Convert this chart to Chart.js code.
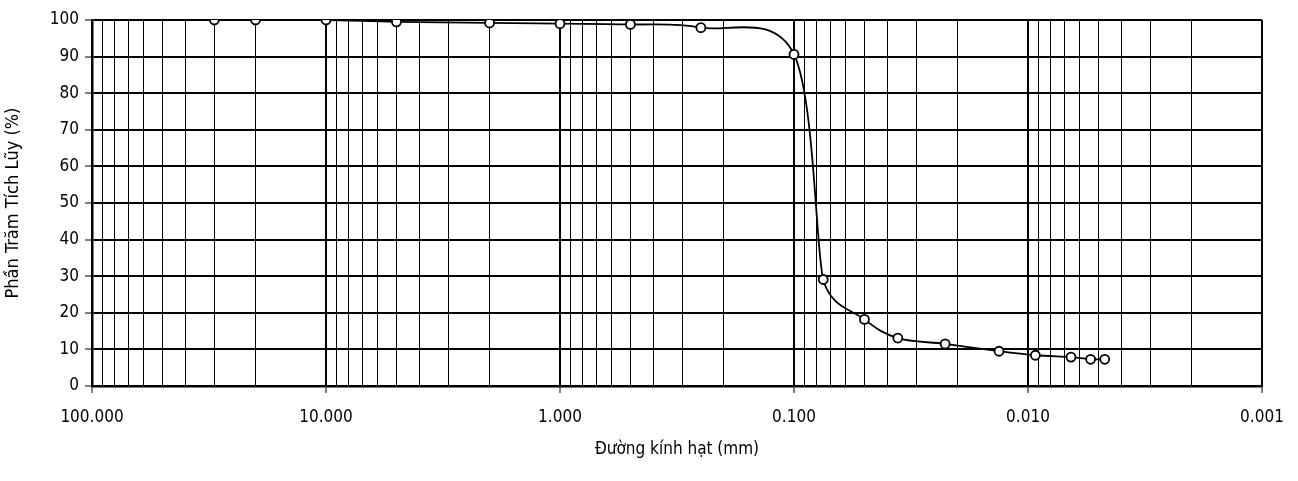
<!DOCTYPE html>
<html>
<head>
<meta charset="utf-8">
<script src="https://cdn.jsdelivr.net/npm/chart.js@4.4.1/dist/chart.umd.min.js"></script>
<style>
  html, body { margin: 0; padding: 0; background: #fff; }
  #wrap { width: 1298px; height: 481px; }
</style>
</head>
<body>
<div id="wrap"><canvas id="chart" width="1298" height="481"></canvas></div>
<script>
// grain size (mm) and cumulative passing (%)
const grainSize = [30, 20, 10, 5, 2, 1, 0.5, 0.25, 0.1, 0.075, 0.05, 0.036, 0.0226, 0.0133, 0.0093, 0.00655, 0.0054, 0.0047];
const passing   = [100, 100, 100, 99.5, 99.2, 99.0, 98.8, 97.9, 90.6, 29.1, 18.2, 13.1, 11.5, 9.5, 8.4, 7.9, 7.3, 7.3];

const xDecades = [100, 10, 1, 0.1, 0.01, 0.001];
const yLabels  = [0, 10, 20, 30, 40, 50, 60, 70, 80, 90, 100];

const xTitle = 'Đường kính hạt (mm)';
const yTitle = 'Phần Trăm Tích Lũy (%)';

const FONT = "'Liberation Sans Narrow', 'Arial Narrow', 'DejaVu Sans Condensed', sans-serif";

function isDecade(v) {
  const l = Math.log10(v);
  return Math.abs(l - Math.round(l)) < 1e-9;
}

// gridlines 1..9 in each decade
const xGrid = [];
for (let k = -3; k < 2; k++) {
  for (let d = 1; d <= 9; d++) xGrid.push(d * Math.pow(10, k));
}
xGrid.push(100);

const points = grainSize.map((g, i) => ({ x: g, y: passing[i] }));

const dist = (a, b) => Math.hypot(b.x - a.x, b.y - a.y);

// spreadsheet-style smoothing: controls at 1/6 of the neighbour chord,
// shortened when one of the adjacent segments is short
const smoothLine = {
  id: 'smoothLine',
  afterDatasetsUpdate(chart) {
    chart.getSortedVisibleDatasetMetas().forEach(meta => {
      const pts = meta.data;
      const n = pts.length;
      for (let i = 0; i < n; i++) {
        const p = pts[i];
        const a = pts[Math.max(i - 1, 0)];
        const b = pts[Math.min(i + 1, n - 1)];
        const d02 = dist(a, b);
        const dmin = Math.min(dist(a, p) || Infinity, dist(p, b) || Infinity);
        let f = 1 / 6;
        if (d02 > 0 && d02 / 6 > dmin / 2) f = 0.5 * dmin / d02;
        const dx = (b.x - a.x) * f, dy = (b.y - a.y) * f;
        p.cp1x = p.x - dx; p.cp1y = p.y - dy;
        p.cp2x = p.x + dx; p.cp2y = p.y + dy;
      }
      if (meta.dataset) meta.dataset._pointsUpdated = true;
    });
  }
};

new Chart(document.getElementById('chart'), {
  type: 'scatter',
  data: {
    datasets: [{
      data: points,
      showLine: true,
      borderColor: '#000',
      borderWidth: 1.8,
      tension: 0.4,
      pointRadius: 4.5,
      pointBackgroundColor: '#fff',
      pointBorderColor: '#000',
      pointBorderWidth: 1.8
    }]
  },
  plugins: [smoothLine],
  options: {
    responsive: false,
    animation: false,
    layout: { padding: { top: 20, right: 36, left: 0, bottom: 0 } },
    plugins: { legend: { display: false }, tooltip: { enabled: false } },
    scales: {
      x: {
        type: 'logarithmic',
        reverse: true,
        min: 0.001,
        max: 100,
        afterBuildTicks: s => { s.ticks = xGrid.map(v => ({ value: v })); },
        afterFit: s => { s.height = 95; },
        ticks: {
          autoSkip: false,
          maxRotation: 0,
          color: '#000',
          padding: 14,
          font: { family: FONT, size: 17 },
          callback: v => (xDecades.some(d => Math.abs(d - v) / d < 1e-9) ? Number(v).toFixed(3) : '')
        },
        grid: {
          color: '#000',
          lineWidth: c => (c.tick && isDecade(c.tick.value) ? 2 : 1),
          tickLength: 7,
          tickWidth: 1,
          tickColor: c => (c.tick && isDecade(c.tick.value) ? '#000' : 'rgba(0,0,0,0)')
        },
        border: { display: true, color: '#000', width: 2.5 },
        title: {
          display: true,
          text: xTitle,
          color: '#000',
          font: { family: FONT, size: 17 },
          padding: { top: 0, bottom: 21 }
        }
      },
      y: {
        min: 0,
        max: 100,
        afterFit: s => { s.width = 92; },
        ticks: {
          stepSize: 5,
          color: '#000',
          padding: 6,
          font: { family: FONT, size: 17 },
          callback: v => (yLabels.includes(v) ? String(v) : '')
        },
        grid: {
          color: '#000',
          lineWidth: c => (c.tick && c.tick.value % 10 === 0 ? 2 : 1),
          tickLength: 7,
          tickWidth: 1,
          tickColor: c => (c.tick && c.tick.value % 10 === 0 ? '#000' : 'rgba(0,0,0,0)')
        },
        border: { display: true, color: '#000', width: 2.5 },
        title: {
          display: true,
          text: yTitle,
          color: '#000',
          font: { family: FONT, size: 18 },
          padding: { top: 3, bottom: 0 }
        }
      }
    }
  }
});
</script>
</body>
</html>
